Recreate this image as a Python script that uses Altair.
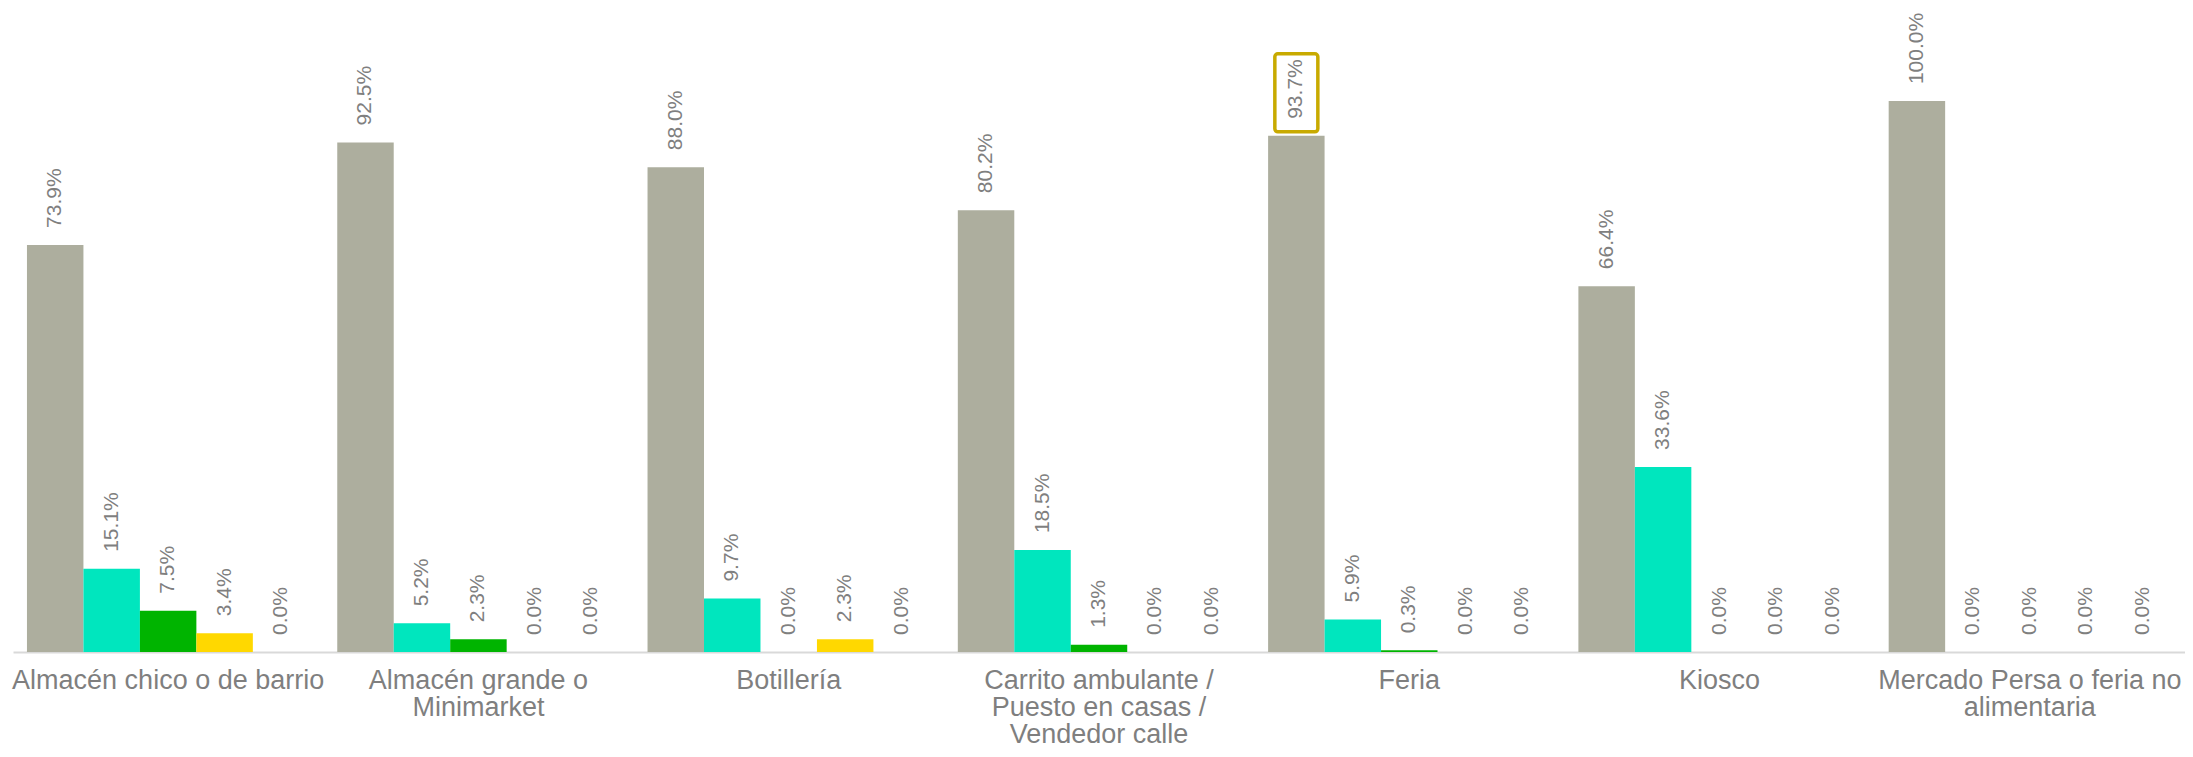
import json
import altair as alt
import pandas as pd

categories = [
    "Almacén chico o de barrio",
    "Almacén grande o Minimarket",
    "Botillería",
    "Carrito ambulante / Puesto en casas / Vendedor calle",
    "Feria",
    "Kiosco",
    "Mercado Persa o feria no alimentaria",
]
wrapped = {
    "Almacén chico o de barrio": ["Almacén chico o de barrio"],
    "Almacén grande o Minimarket": ["Almacén grande o", "Minimarket"],
    "Botillería": ["Botillería"],
    "Carrito ambulante / Puesto en casas / Vendedor calle": ["Carrito ambulante /", "Puesto en casas /", "Vendedor calle"],
    "Feria": ["Feria"],
    "Kiosco": ["Kiosco"],
    "Mercado Persa o feria no alimentaria": ["Mercado Persa o feria no", "alimentaria"],
}
series = ["Serie 1", "Serie 2", "Serie 3", "Serie 4", "Serie 5"]
colors = ["#ADAE9E", "#00E6BE", "#00B400", "#FFD800", "#A6A6A6"]

s1 = [73.9, 92.5, 88.0, 80.2, 93.7, 66.4, 100.0]
s2 = [15.1, 5.2, 9.7, 18.5, 5.9, 33.6, 0.0]
s3 = [7.5, 2.3, 0.0, 1.3, 0.3, 0.0, 0.0]
s4 = [3.4, 0.0, 2.3, 0.0, 0.0, 0.0, 0.0]
s5 = [0.0, 0.0, 0.0, 0.0, 0.0, 0.0, 0.0]

highlight_category = "Feria"
highlight_series = "Serie 1"

rows = []
for si, vals in zip(series, [s1, s2, s3, s4, s5]):
    for c, v in zip(categories, vals):
        rows.append({"category": c, "series": si, "value": v,
                     "label": f"{v:.1f}%"})
df = pd.DataFrame(rows)

label_expr = json.dumps(wrapped, ensure_ascii=False) + "[datum.label]"

x_enc = alt.X(
    "category:N",
    sort=categories,
    scale=alt.Scale(paddingInner=0.09, paddingOuter=0.045),
    axis=alt.Axis(
        title=None,
        labelAngle=0,
        labelFont="Liberation Sans",
        labelFontSize=27,
        labelColor="#7F7F7F",
        labelLineHeight=27,
        labelPadding=15,
        labelLimit=600,
        labelOverlap=False,
        labelBaseline="top",
        labelExpr=label_expr,
        ticks=False,
        domainColor="#D9D9D9",
        domainWidth=2,
        grid=False,
    ),
)
xo_enc = alt.XOffset(
    "series:N", sort=series,
    scale=alt.Scale(paddingInner=0, paddingOuter=0),
)
y_enc = alt.Y("value:Q", scale=alt.Scale(domain=[0, 116.9]), axis=None)

base = alt.Chart(df)

bars = base.mark_bar().encode(
    x=x_enc,
    xOffset=xo_enc,
    y=y_enc,
    color=alt.Color("series:N", sort=series,
                    scale=alt.Scale(domain=series, range=colors), legend=None),
)

labels = base.mark_text(
    angle=270, align="left", baseline="middle", dx=17,
    font="Liberation Sans", fontSize=21, color="#7F7F7F",
).encode(
    x=x_enc, xOffset=xo_enc, y=y_enc, text="label:N",
)

box = base.transform_filter(
    (alt.datum.category == highlight_category) & (alt.datum.series == highlight_series)
).mark_bar(
    filled=False, stroke="#C8AA00", strokeWidth=3.5, cornerRadius=3,
    width=43, yOffset=-82, y2Offset=-4,
).encode(
    x=x_enc, xOffset=xo_enc,
    y=y_enc, y2="value:Q",
)

chart = alt.layer(bars, labels, box).properties(
    width=2172, height=644,
    autosize=alt.AutoSizeParams(type="none"),
    padding={"left": 5, "top": 0, "right": 0, "bottom": 97},
).configure_view(stroke=None)

chart.save("out.html", embed_options={"renderer": "svg", "actions": False})
